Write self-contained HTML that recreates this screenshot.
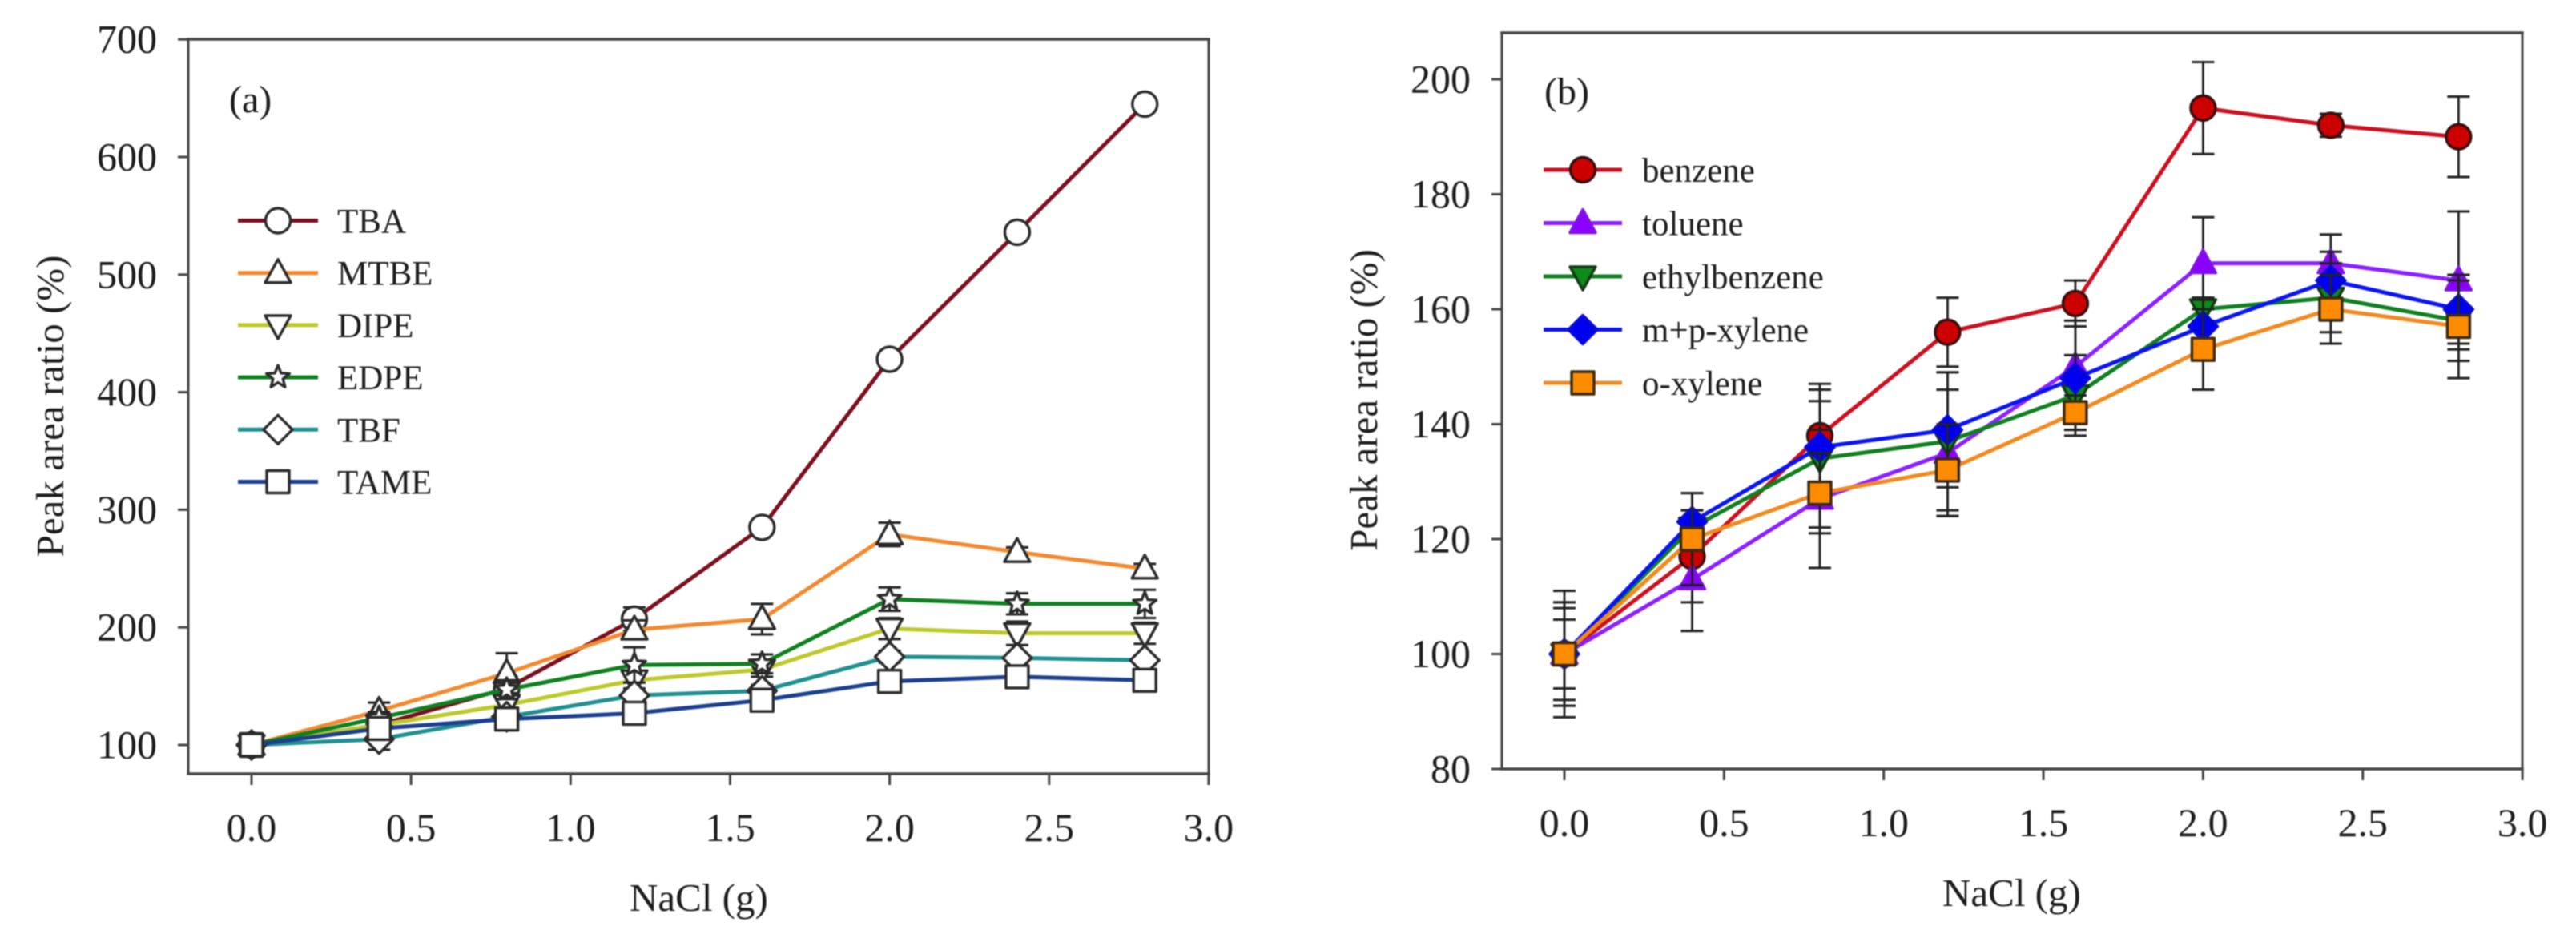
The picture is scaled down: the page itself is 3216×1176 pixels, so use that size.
<!DOCTYPE html>
<html lang="en">
<head>
<meta charset="utf-8">
<title>Peak area ratio vs NaCl</title>
<style>
html,body{margin:0;padding:0;background:#fff;width:3216px;height:1176px;overflow:hidden}
svg{display:block;filter:blur(0.9px)}
text{font-family:"Liberation Serif",serif;fill:#1c1c1c}
</style>
</head>
<body>
<svg id="chart" xmlns="http://www.w3.org/2000/svg" width="3216" height="1176" viewBox="0 0 3216 1176">
<rect width="3216" height="1176" fill="#fff"/>
</svg>
<script>
const saltGrams = [0, 0.4, 0.8, 1.2, 1.6, 2.0, 2.4, 2.8];
const xTickLabels = ["0.0", "0.5", "1.0", "1.5", "2.0", "2.5", "3.0"];
const yTickLabelsA = ["100", "200", "300", "400", "500", "600", "700"];
const yTickLabelsB = ["80", "100", "120", "140", "160", "180", "200"];

const namesA = ["TBA", "MTBE", "DIPE", "EDPE", "TBF", "TAME"];
const tbaValues = [100, 117, 148, 207, 285, 428, 536, 645];
const mtbeValues = [100, 129, 161, 198, 207, 279, 264, 250];
const dipeValues = [100, 117, 134, 155, 164, 199, 195, 195];
const edpeValues = [100, 123, 147, 168, 169, 224, 220, 220];
const tbfValues = [100, 105, 124, 142, 146, 175, 174, 172];
const tameValues = [100, 114, 122, 127, 138, 154, 158, 155];
const tbaErrors = [10, 3, 10, 10, 3, 5, 3, 3];
const mtbeErrors = [9, 7, 17, 8, 13, 10, 4, 4];
const dipeErrors = [8, 5, 5, 15, 6, 9, 10, 9];
const edpeErrors = [8, 5, 8, 15, 8, 10, 9, 12];
const tbfErrors = [10, 9, 5, 6, 5, 5, 4, 4];
const tameErrors = [9, 5, 9, 5, 4, 3, 3, 3];

const namesB = ["benzene", "toluene", "ethylbenzene", "m+p-xylene", "o-xylene"];
const benzeneValues = [100, 117, 138, 156, 161, 195, 192, 190];
const tolueneValues = [100, 113, 127, 135, 150, 168, 168, 165];
const ethylbenzeneValues = [100, 122, 134, 137, 145, 160, 162, 158];
const mpXyleneValues = [100, 123, 136, 139, 148, 157, 165, 160];
const oXyleneValues = [100, 120, 128, 132, 142, 153, 160, 157];
const benzeneErrors = [11, 8, 9, 6, 4, 8, 2, 7];
const tolueneErrors = [9, 9, 12, 11, 8, 8, 5, 12];
const ethylbenzeneErrors = [8, 3, 12, 12, 7, 2, 6, 7];
const mpXyleneErrors = [6, 5, 8, 10, 9, 5, 5, 6];
const oXyleneErrors = [9, 8, 7, 8, 3, 7, 6, 9];

const NS = "http://www.w3.org/2000/svg";
const root = document.getElementById("chart");

function make(tag, parent) {
  const el = document.createElementNS(NS, tag);
  parent.appendChild(el);
  return el;
}
function line(parent, x1, y1, x2, y2, color, width, cap) {
  const el = make("line", parent);
  el.setAttribute("x1", x1);
  el.setAttribute("y1", y1);
  el.setAttribute("x2", x2);
  el.setAttribute("y2", y2);
  el.setAttribute("stroke", color);
  el.setAttribute("stroke-width", width);
  if (cap) el.setAttribute("stroke-linecap", cap);
  return el;
}
function label(parent, str, x, y, size, anchor) {
  const el = make("text", parent);
  el.textContent = str;
  el.setAttribute("x", x);
  el.setAttribute("y", y);
  el.setAttribute("font-size", size);
  el.setAttribute("text-anchor", anchor || "start");
  return el;
}
function polyPoints(shape, cx, cy, s) {
  let pts = [];
  if (shape === "up") pts = [[0, -17 * s], [16 * s, 12 * s], [-16 * s, 12 * s]];
  if (shape === "down") pts = [[-16 * s, -12 * s], [16 * s, -12 * s], [0, 17 * s]];
  if (shape === "diamond") pts = [[0, -18 * s], [18 * s, 0], [0, 18 * s], [-18 * s, 0]];
  if (shape === "square") pts = [[-14 * s, -14 * s], [14 * s, -14 * s], [14 * s, 14 * s], [-14 * s, 14 * s]];
  if (shape === "star") {
    for (let k = 0; k < 10; k++) {
      const r = (k % 2 ? 6.5 : 15) * s;
      const a = -Math.PI / 2 + k * Math.PI / 5;
      pts.push([r * Math.cos(a), r * Math.sin(a)]);
    }
  }
  return pts.map(p => (cx + p[0]).toFixed(1) + "," + (cy + p[1]).toFixed(1)).join(" ");
}
function marker(parent, shape, cx, cy, fill, stroke) {
  let el;
  if (shape === "circle") {
    el = make("ellipse", parent);
    el.setAttribute("cx", cx);
    el.setAttribute("cy", cy);
    el.setAttribute("rx", 15.5);
    el.setAttribute("ry", 15.5);
  } else {
    el = make("polygon", parent);
    el.setAttribute("points", polyPoints(shape, cx, cy, 1));
  }
  el.setAttribute("fill", fill);
  el.setAttribute("stroke", stroke);
  el.setAttribute("stroke-width", 3.4);
  el.setAttribute("stroke-linejoin", "round");
  return el;
}
function drawPanel(p) {
  const panel = make("g", root);
  
  
  const sx = v => p.x0 + (v - p.xMin) * p.xPx;
  const sy = v => p.y0 - (v - p.yMin) * p.yPx;

  const axisColor = "#444";
  const frame = make("g", panel);
  
  
  line(frame, p.left, p.top, p.right, p.top, axisColor, 3.5, "square");
  line(frame, p.right, p.top, p.right, p.bottom, axisColor, 3, "square");
  line(frame, p.left, p.top, p.left, p.bottom, axisColor, 3, "square");
  line(frame, p.left, p.bottom, p.right, p.bottom, axisColor, 3.5, "square");

  const xAxis = make("g", panel);
  
  
  p.xTicks.forEach(t => {
    const x = sx(parseFloat(t));
    line(xAxis, x, p.bottom, x, p.bottom + 14, axisColor, 3);
    const tx = label(xAxis, t, x, p.xTickBase, 50, "middle");
    
    
  });
  const yAxis = make("g", panel);
  
  
  p.yTicks.forEach(t => {
    const y = sy(parseFloat(t));
    line(yAxis, p.left - 13, y, p.left, y, axisColor, 3);
    const ty = label(yAxis, t, p.left - 39, y + 16.5, 50, "end");
    
    
  });

  const xt = label(panel, "NaCl (g)", p.xTitleX, p.xTitleY, 49);
  
  
  const yt = label(panel, "Peak area ratio (%)", 0, 0, 49, "middle");
  yt.setAttribute("transform", "translate(" + p.yTitleX + " " + p.yTitleY + ") rotate(-90)");
  
  
  const pl = label(panel, p.tag, p.tagX, p.tagY, 48);
  
  

  p.series.forEach((s, i) => {
    const g = make("g", panel);
    
    
    const path = make("polyline", g);
    
    
    path.setAttribute("points", saltGrams.map((x, k) => sx(x).toFixed(1) + "," + sy(s.values[k]).toFixed(1)).join(" "));
    path.setAttribute("fill", "none");
    path.setAttribute("stroke", s.color);
    path.setAttribute("stroke-width", 5);
    path.setAttribute("stroke-linejoin", "round");
    saltGrams.forEach((x, k) => {
      const cx = sx(x);
      const hi = sy(s.values[k] + s.errors[k]);
      const lo = sy(s.values[k] - s.errors[k]);
      const eb = make("g", g);
      
      
      line(eb, cx, hi, cx, lo, "#222", 2.8);
      line(eb, cx - 14, hi, cx + 14, hi, "#222", 3);
      line(eb, cx - 14, lo, cx + 14, lo, "#222", 3);
    });
    saltGrams.forEach((x, k) => {
      const m = marker(g, s.shape, sx(x), sy(s.values[k]), s.fill, s.stroke);
      
      
    });

    const ly = p.legendTop + i * p.legendStep;
    const entry = make("g", panel);
    
    
    line(entry, p.legendX1, ly, p.legendX2, ly, s.color, 5);
    marker(entry, s.shape, (p.legendX1 + p.legendX2) / 2, ly, s.fill, s.stroke);
    label(entry, s.name, p.legendTextX, ly + 15, 43);
  });
}

drawPanel({
  id: "panel-a", tag: "(a)", tagX: 286, tagY: 140,
  x0: 314, xMin: 0, xPx: 398.3, y0: 930, yMin: 100, yPx: 1.468,
  left: 235, right: 1509, top: 49, bottom: 966,
  xTicks: xTickLabels, yTicks: yTickLabelsA, xTickBase: 1050,
  xTitleX: 786, xTitleY: 1137, yTitleX: 79, yTitleY: 507,
  legendTop: 275.5, legendStep: 65.2, legendX1: 297, legendX2: 397, legendTextX: 421,
  series: [
    {name: namesA[0], values: tbaValues, errors: tbaErrors, color: "#7a0f1e", shape: "circle", fill: "#fff", stroke: "#2a2a2a"},
    {name: namesA[1], values: mtbeValues, errors: mtbeErrors, color: "#f08a30", shape: "up", fill: "#fff", stroke: "#2a2a2a"},
    {name: namesA[2], values: dipeValues, errors: dipeErrors, color: "#bcc92a", shape: "down", fill: "#fff", stroke: "#2a2a2a"},
    {name: namesA[3], values: edpeValues, errors: edpeErrors, color: "#0f8020", shape: "star", fill: "#fff", stroke: "#2a2a2a"},
    {name: namesA[4], values: tbfValues, errors: tbfErrors, color: "#1f8f90", shape: "diamond", fill: "#fff", stroke: "#2a2a2a"},
    {name: namesA[5], values: tameValues, errors: tameErrors, color: "#1b3f8e", shape: "square", fill: "#fff", stroke: "#2a2a2a"}
  ]
});

drawPanel({
  id: "panel-b", tag: "(b)", tagX: 1928, tagY: 130,
  x0: 1953, xMin: 0, xPx: 398.7, y0: 960, yMin: 80, yPx: 7.175,
  left: 1875, right: 3149, top: 41, bottom: 960,
  xTicks: xTickLabels, yTicks: yTickLabelsB, xTickBase: 1044,
  xTitleX: 2425, xTitleY: 1131, yTitleX: 1719, yTitleY: 499.5,
  legendTop: 212, legendStep: 66.5, legendX1: 1927, legendX2: 2025, legendTextX: 2050,
  series: [
    {name: namesB[0], values: benzeneValues, errors: benzeneErrors, color: "#c81020", shape: "circle", fill: "#cc0000", stroke: "#331010"},
    {name: namesB[1], values: tolueneValues, errors: tolueneErrors, color: "#8a20ff", shape: "up", fill: "#8a00ff", stroke: "#8010e8"},
    {name: namesB[2], values: ethylbenzeneValues, errors: ethylbenzeneErrors, color: "#0f7f1f", shape: "down", fill: "#0d8a1a", stroke: "#143814"},
    {name: namesB[3], values: mpXyleneValues, errors: mpXyleneErrors, color: "#0a14f0", shape: "diamond", fill: "#0000ee", stroke: "#0808d8"},
    {name: namesB[4], values: oXyleneValues, errors: oXyleneErrors, color: "#f08a20", shape: "square", fill: "#ff8c00", stroke: "#3a2a10"}
  ]
});
</script>
</body>
</html>
